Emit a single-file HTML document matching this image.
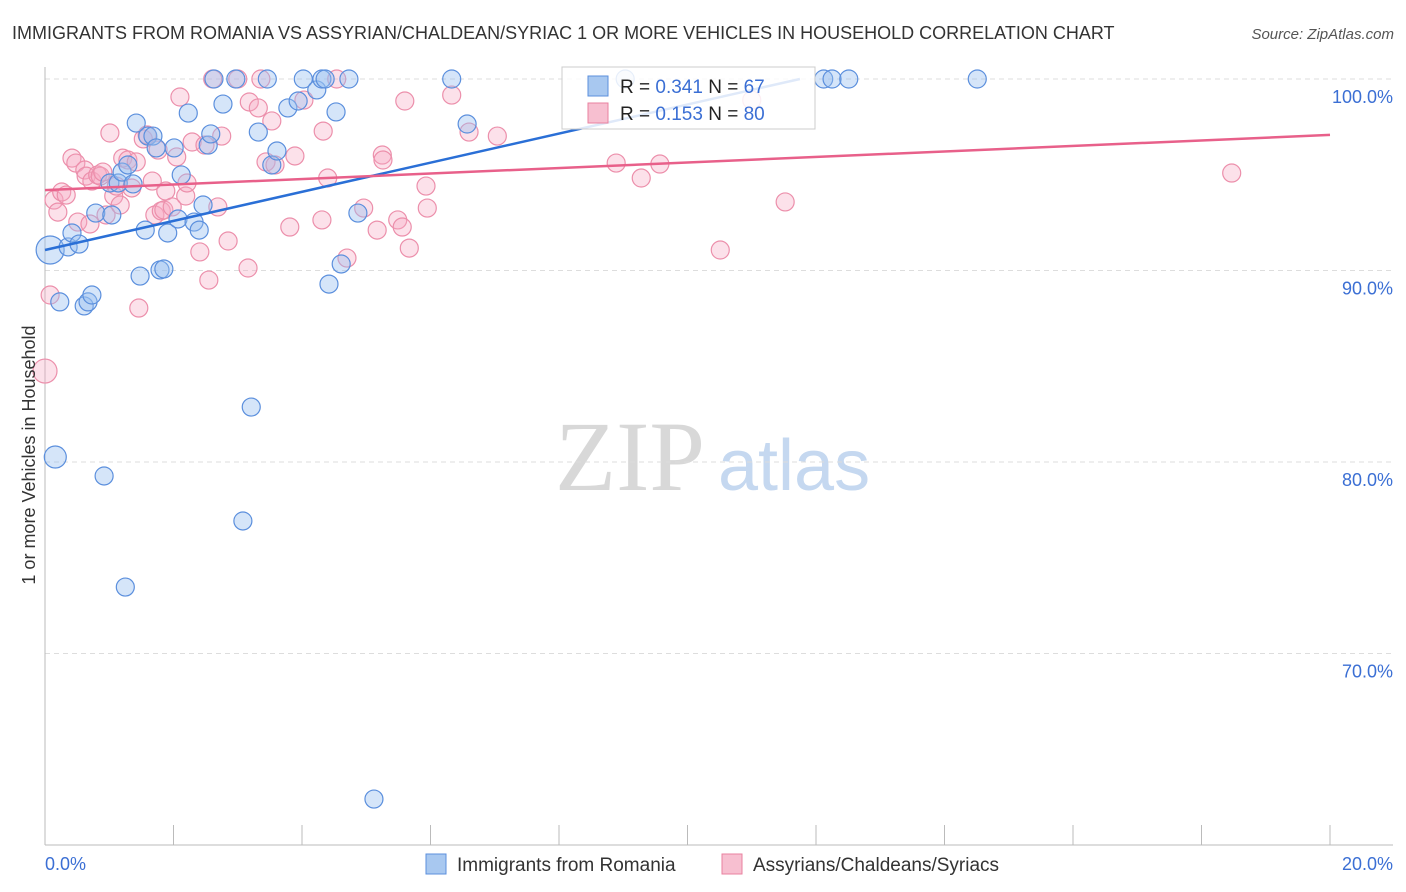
<!DOCTYPE html>
<html><head><meta charset="utf-8"><style>
body{margin:0;background:#fff;font-family:"Liberation Sans",sans-serif;}
svg{display:block}
</style></head><body>
<svg id="chart" width="1406" height="892" font-family="Liberation Sans, sans-serif">
<text x="12" y="39" font-size="18" fill="#333">IMMIGRANTS FROM ROMANIA VS ASSYRIAN/CHALDEAN/SYRIAC 1 OR MORE VEHICLES IN HOUSEHOLD CORRELATION CHART</text>
<text x="1394" y="39" font-size="15" fill="#555" font-style="italic" text-anchor="end">Source: ZipAtlas.com</text>
<g>
<text x="555" y="490" font-size="100" fill="#d8d8d8" font-family="Liberation Serif, serif">ZIP</text>
<text x="718" y="490" font-size="72" fill="#c5d8f0">atlas</text>
</g>
<g id="grid"></g>
<g id="axes"></g>
<g id="marks"></g>
<text x="35" y="455" font-size="18" fill="#333" text-anchor="middle" transform="rotate(-90 35 455)">1 or more Vehicles in Household</text>
<g>
<rect x="562" y="67" width="253" height="62" fill="#fff" fill-opacity="0.85" stroke="#ccc"/>
<rect x="588" y="76" width="20" height="20" fill="#a8c8f0" stroke="#5b8fdd"/>
<rect x="588" y="103" width="20" height="20" fill="#f7bfd0" stroke="#e8829f"/>
<text x="620" y="93" font-size="19" fill="#222">R = <tspan fill="#3b6fd4">0.341</tspan>   N = <tspan fill="#3b6fd4">67</tspan></text>
<text x="620" y="120" font-size="19" fill="#222">R = <tspan fill="#3b6fd4">0.153</tspan>   N = <tspan fill="#3b6fd4">80</tspan></text>
</g>
<g>
<rect x="426" y="854" width="20" height="20" fill="#a8c8f0" stroke="#5b8fdd"/>
<text x="457" y="871" font-size="19" fill="#333">Immigrants from Romania</text>
<rect x="722" y="854" width="20" height="20" fill="#f7bfd0" stroke="#e8829f"/>
<text x="753" y="871" font-size="19" fill="#333">Assyrians/Chaldeans/Syriacs</text>
</g>
</svg>
<script>
const blueX=[0.08,0.16,0.23,0.36,0.42,0.53,0.61,0.67,0.73,0.79,0.92,1.01,1.04,1.14,1.20,1.25,1.29,1.42,1.48,1.56,1.60,1.68,1.73,1.79,1.85,1.91,2.01,2.07,2.12,2.23,2.32,2.40,2.46,2.54,2.58,2.63,2.77,2.97,3.08,3.21,3.32,3.46,3.53,3.61,3.78,3.94,4.02,4.23,4.31,4.36,4.42,4.53,4.61,4.73,4.87,5.12,6.33,6.57,9.03,12.12,12.25,12.51,14.51,1.37];
const blueY=[91.07,80.26,88.36,91.23,91.96,91.38,88.15,88.36,88.72,93.0,79.27,94.57,92.9,94.57,95.14,73.47,95.51,97.7,89.71,92.11,97.02,97.02,96.4,90.03,90.08,91.96,96.4,92.69,94.99,98.22,92.53,92.11,93.42,96.55,97.13,100,98.69,100,76.92,82.87,97.23,100,95.51,96.24,98.49,98.85,100,99.43,100,100,89.29,98.28,90.34,100,93.0,62.4,100,97.65,100,100,100,100,100,94.52];
const blueR=[14,11];
const pinkX=[0.0,0.08,0.14,0.20,0.26,0.33,0.42,0.48,0.51,0.62,0.64,0.70,0.73,0.82,0.86,0.90,0.95,1.01,1.07,1.11,1.17,1.21,1.29,1.35,1.42,1.46,1.53,1.59,1.67,1.71,1.76,1.81,1.85,1.88,1.98,2.05,2.10,2.19,2.21,2.29,2.41,2.49,2.55,2.61,2.69,2.75,2.85,3.00,3.16,3.18,3.32,3.36,3.44,3.53,3.58,3.81,3.89,4.03,4.31,4.33,4.40,4.54,4.70,4.96,5.17,5.25,5.26,5.49,5.56,5.60,5.67,5.93,5.95,6.33,6.60,7.04,8.89,9.28,9.57,10.51,11.0,11.52,18.47];
const pinkY=[84.75,88.72,93.68,93.05,94.1,93.94,95.87,95.61,92.53,95.25,94.93,92.43,94.67,94.99,94.93,95.14,92.9,97.18,93.89,94.41,93.42,95.87,95.77,94.31,95.67,88.04,96.87,97.08,94.67,92.9,96.29,93.11,93.16,94.15,93.32,95.93,99.06,93.89,94.57,96.71,90.97,96.55,89.5,100,93.32,97.02,91.54,100,90.13,98.8,98.49,100,95.67,97.81,95.51,92.27,95.98,98.9,92.64,97.28,94.83,100,90.65,93.26,92.11,96.03,95.77,92.64,92.27,98.85,91.17,94.41,93.26,99.16,97.23,97.02,95.61,94.83,95.56,91.07,98.9,93.58,95.09];
const pinkR=[12];
const blueTrend=[[0,91.07],[11.75,100]];
const pinkTrend=[[0,94.2],[20,97.08]];
const yTicks=[100,90,80,70];
const yTickLabels=["100.0%","90.0%","80.0%","70.0%"];
const xTicks=[0,2,4,6,8,10,12,14,16,18,20];

const NS="http://www.w3.org/2000/svg";
const sx=v=>45+v*64.25;
const sy=v=>79+(100-v)*19.15;
function mk(tag,attrs,parent){const e=document.createElementNS(NS,tag);for(const k in attrs)e.setAttribute(k,attrs[k]);parent.appendChild(e);return e;}
const grid=document.getElementById('grid'),axes=document.getElementById('axes'),marks=document.getElementById('marks');
yTicks.forEach((t,i)=>{
  const l=mk('line',{x1:45,x2:1393,y1:sy(t),y2:sy(t),stroke:'#ddd','stroke-dasharray':'5,4'},grid);
  
  
  const tx=mk('text',{x:1393,y:sy(t)+24,'font-size':18,fill:'#3b6fd4','text-anchor':'end'},axes);
  tx.textContent=yTickLabels[i];
  
  
});
const ya=mk('line',{x1:45,x2:45,y1:67,y2:845,stroke:'#bbb'},axes);


const xa=mk('line',{x1:45,x2:1393,y1:845,y2:845,stroke:'#bbb'},axes);


xTicks.forEach(t=>{
  const l=mk('line',{x1:sx(t),x2:sx(t),y1:825,y2:845,stroke:'#bbb'},axes);
  
  
});
const xl0=mk('text',{x:45,y:870,'font-size':18,fill:'#3b6fd4'},axes);xl0.textContent='0.0%';


const xl1=mk('text',{x:1393,y:870,'font-size':18,fill:'#3b6fd4','text-anchor':'end'},axes);xl1.textContent='20.0%';


pinkX.forEach((x,i)=>{
  const c=mk('circle',{cx:sx(x),cy:sy(pinkY[i]),r:pinkR[i]||9,fill:'rgba(245,170,195,0.35)',stroke:'#ec8fab','stroke-width':1.2},marks);
  
  
});
blueX.forEach((x,i)=>{
  const c=mk('circle',{cx:sx(x),cy:sy(blueY[i]),r:blueR[i]||9,fill:'rgba(150,190,240,0.4)',stroke:'#5b8fdd','stroke-width':1.2},marks);
  
  
});
const bt=mk('line',{x1:sx(blueTrend[0][0]),y1:sy(blueTrend[0][1]),x2:sx(blueTrend[1][0]),y2:sy(blueTrend[1][1]),stroke:'#2a6fd6','stroke-width':2.5},marks);


const pt=mk('line',{x1:sx(pinkTrend[0][0]),y1:sy(pinkTrend[0][1]),x2:sx(pinkTrend[1][0]),y2:sy(pinkTrend[1][1]),stroke:'#e8608a','stroke-width':2.5},marks);


</script>
</body></html>
